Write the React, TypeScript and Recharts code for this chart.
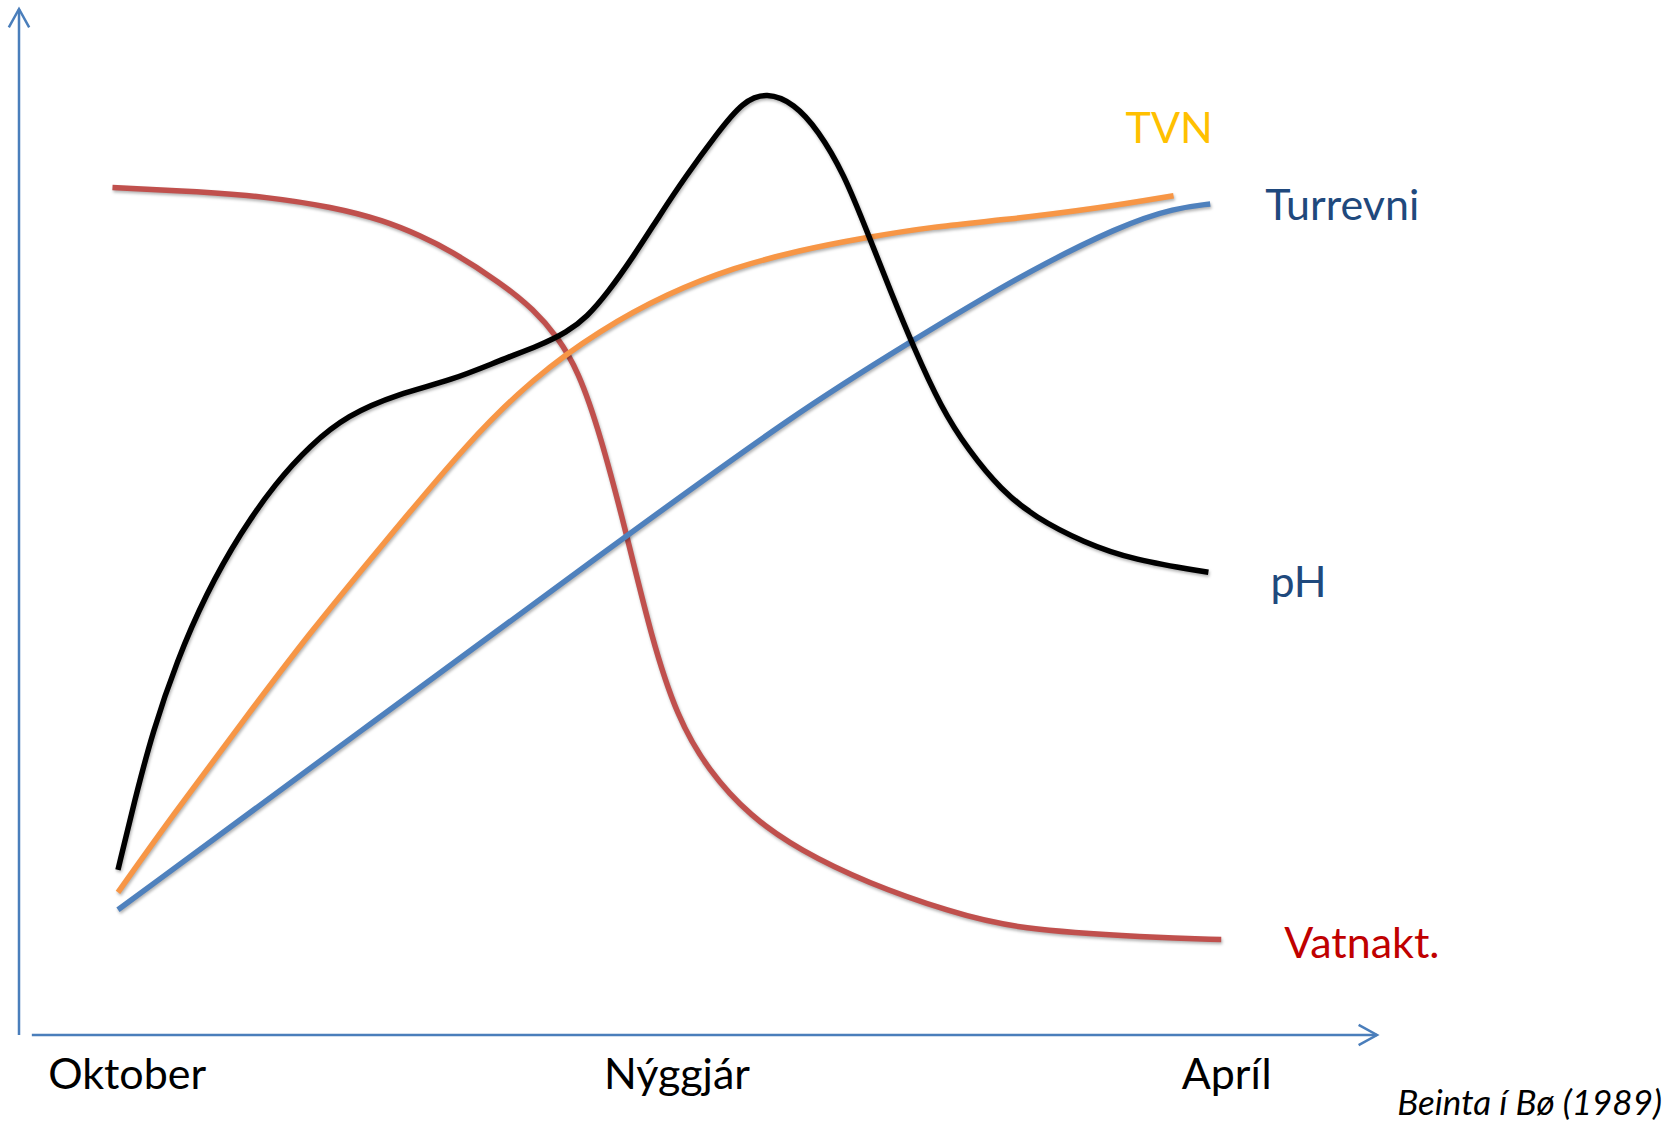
import { Line, LineChart, ReferenceLine, XAxis, YAxis } from "recharts";

// x = months after 1 October, y = relative level (0-100, schematic)
const monthTicks = [0, 3, 6];
const monthLabels = ["Oktober", "Nýggjár", "Apríl"];

const vatnakt = [
    { m: -0.08, v: 82.6 }, { m: 0.4, v: 82.2 }, { m: 0.76, v: 81.7 }, { m: 1.12, v: 80.7 },
    { m: 1.4, v: 79.4 }, { m: 1.6, v: 77.9 }, { m: 1.76, v: 76.5 }, { m: 2.04, v: 73.3 },
    { m: 2.22, v: 70.7 }, { m: 2.35, v: 68.0 }, { m: 2.46, v: 64.8 }, { m: 2.58, v: 58.7 },
    { m: 2.73, v: 48.5 }, { m: 2.86, v: 38.8 }, { m: 3.0, v: 31.0 }, { m: 3.17, v: 25.8 },
    { m: 3.4, v: 21.3 }, { m: 3.67, v: 18.0 }, { m: 4.04, v: 14.8 }, { m: 4.49, v: 12.0 },
    { m: 4.85, v: 10.3 }, { m: 5.58, v: 9.5 }, { m: 5.97, v: 9.3 },
];

const pH = [
    { m: -0.05, v: 16.1 }, { m: 0.04, v: 22.8 }, { m: 0.14, v: 29.6 }, { m: 0.27, v: 36.4 },
    { m: 0.43, v: 43.0 }, { m: 0.62, v: 49.0 }, { m: 0.81, v: 53.8 }, { m: 1.0, v: 57.5 },
    { m: 1.2, v: 60.4 }, { m: 1.48, v: 62.5 }, { m: 1.77, v: 63.8 }, { m: 2.04, v: 65.8 },
    { m: 2.25, v: 67.2 }, { m: 2.4, v: 68.5 }, { m: 2.51, v: 70.0 }, { m: 2.62, v: 72.3 },
    { m: 2.76, v: 75.8 }, { m: 2.91, v: 80.0 }, { m: 3.04, v: 83.5 }, { m: 3.22, v: 87.9 },
    { m: 3.36, v: 91.0 }, { m: 3.49, v: 91.9 }, { m: 3.64, v: 90.8 }, { m: 3.77, v: 88.2 },
    { m: 3.91, v: 84.0 }, { m: 4.04, v: 78.2 }, { m: 4.17, v: 72.3 }, { m: 4.29, v: 67.1 },
    { m: 4.44, v: 61.2 }, { m: 4.59, v: 57.0 }, { m: 4.77, v: 53.1 }, { m: 4.95, v: 50.5 },
    { m: 5.22, v: 48.0 }, { m: 5.49, v: 46.3 }, { m: 5.9, v: 45.1 },
];

const tvn = [
    { m: -0.05, v: 13.9 }, { m: 0.24, v: 21.2 }, { m: 0.62, v: 30.3 }, { m: 1.0, v: 39.3 },
    { m: 1.39, v: 47.7 }, { m: 1.86, v: 57.8 }, { m: 2.22, v: 64.1 }, { m: 2.58, v: 68.7 },
    { m: 2.95, v: 72.3 }, { m: 3.31, v: 74.8 }, { m: 3.67, v: 76.5 }, { m: 4.02, v: 77.7 },
    { m: 4.4, v: 78.8 }, { m: 4.77, v: 79.4 }, { m: 5.31, v: 80.6 }, { m: 5.71, v: 81.8 },
];

const turrevni = [
    { m: -0.05, v: 12.2 }, { m: 1.28, v: 29.7 }, { m: 2.62, v: 47.3 }, { m: 3.67, v: 60.9 },
    { m: 4.27, v: 67.5 }, { m: 4.85, v: 73.8 }, { m: 5.43, v: 79.0 }, { m: 5.72, v: 80.6 },
    { m: 5.91, v: 81.0 },
];

const FONT = "Lato, 'Open Sans', sans-serif";
const AXIS_BLUE = "#4A7EBB";
const X_MIN = -0.59;
const X_MAX = 6.82;
const SHADOW = { filter: "drop-shadow(1px 2px 1.5px rgba(0,0,0,0.3))" };

const ArrowLine = (props: any) => {
    const { x1, y1, x2, y2 } = props;
    const ang = Math.atan2(y2 - y1, x2 - x1);
    const len = 21;
    const spread = (29 * Math.PI) / 180;
    const ax = x2 - len * Math.cos(ang - spread);
    const ay = y2 - len * Math.sin(ang - spread);
    const bx = x2 - len * Math.cos(ang + spread);
    const by = y2 - len * Math.sin(ang + spread);
    return (
        <g stroke={AXIS_BLUE} strokeWidth={2.5} fill="none">
            <line x1={x1} y1={y1} x2={x2} y2={y2} />
            <polyline points={`${ax},${ay} ${x2},${y2} ${bx},${by}`} />
        </g>
    );
};

const MonthTick = (props: any) => {
    const { x, y, payload } = props;
    const idx = monthTicks.indexOf(payload.value);
    return (
        <text x={x} y={y + 54} textAnchor="middle" fontSize={43} fontFamily={FONT} fill="#000">
            {monthLabels[idx]}
        </text>
    );
};

const endLabel = (text: string, color: string, dx: number, dy: number, last: number) => (props: any) => {
    if (props.index !== last) return <g />;
    return (
        <text x={props.x + dx} y={props.y + dy} fill={color} fontSize={43} fontFamily={FONT}>
            {text}
        </text>
    );
};

const App = () => {
    return (
        <div style={{ position: "absolute", left: 0, top: 0, width: 1675, height: 1123, background: "#fff" }}>
            <LineChart width={1675} height={1123} margin={{ top: 9, right: 298, bottom: 0, left: 19 }}>
                <XAxis
                    type="number"
                    dataKey="m"
                    domain={[X_MIN, X_MAX]}
                    allowDataOverflow
                    ticks={monthTicks}
                    tick={<MonthTick />}
                    tickLine={false}
                    axisLine={false}
                    tickSize={0}
                    tickMargin={0}
                    height={88}
                />
                <YAxis type="number" domain={[0, 100]} hide />
                <ReferenceLine
                    segment={[{ x: X_MIN, y: 0 }, { x: X_MIN, y: 100 }]}
                    ifOverflow="visible"
                    shape={(p: any) => <ArrowLine {...p} />}
                />
                <ReferenceLine
                    segment={[{ x: -0.52, y: 0 }, { x: X_MAX, y: 0 }]}
                    ifOverflow="visible"
                    shape={(p: any) => <ArrowLine {...p} />}
                />
                <Line
                    data={vatnakt}
                    dataKey="v"
                    type="basis"
                    stroke="#C0504D"
                    strokeWidth={5.5}
                    style={SHADOW}
                    dot={false}
                    isAnimationActive={false}
                    label={endLabel("Vatnakt.", "#C00000", 63, 18, vatnakt.length - 1)}
                />
                <Line
                    data={turrevni}
                    dataKey="v"
                    type="basis"
                    stroke="#4F81BD"
                    strokeWidth={5.5}
                    style={SHADOW}
                    dot={false}
                    isAnimationActive={false}
                    label={endLabel("Turrevni", "#1F497D", 55, 16, turrevni.length - 1)}
                />
                <Line
                    data={tvn}
                    dataKey="v"
                    type="basis"
                    stroke="#F79646"
                    strokeWidth={5.5}
                    style={SHADOW}
                    dot={false}
                    isAnimationActive={false}
                    label={endLabel("TVN", "#FFC000", -48, -53, tvn.length - 1)}
                />
                <Line
                    data={pH}
                    dataKey="v"
                    type="basis"
                    stroke="#000000"
                    strokeWidth={5.5}
                    style={SHADOW}
                    dot={false}
                    isAnimationActive={false}
                    label={endLabel("pH", "#1F497D", 62, 25, pH.length - 1)}
                />
            </LineChart>
            <svg width={1675} height={1123} style={{ position: "absolute", left: 0, top: 0, pointerEvents: "none" }}>
                <text x={1662} y={1115} textAnchor="end" fontSize={35} fontStyle="italic" fontFamily={FONT} fill="#000">
                    Beinta í Bø (1989)
                </text>
            </svg>
        </div>
    );
};

export default App;
